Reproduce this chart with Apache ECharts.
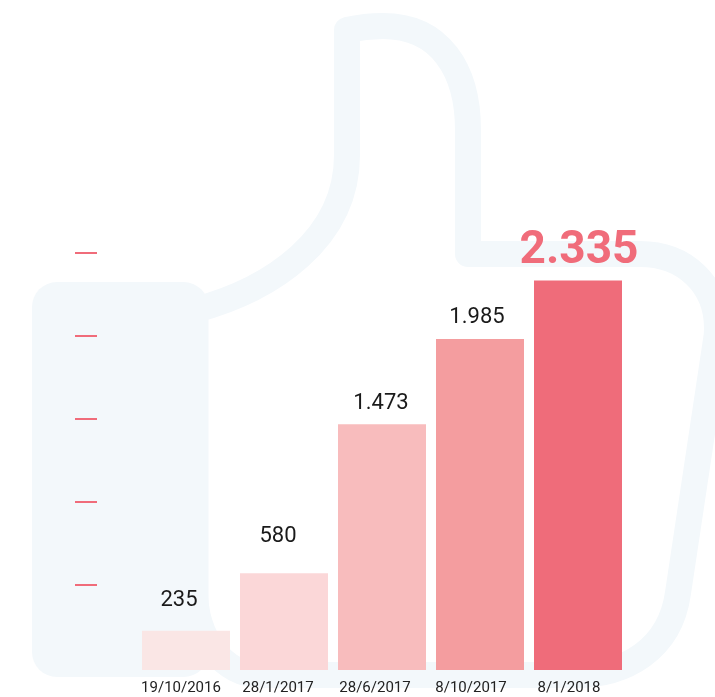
<!DOCTYPE html>
<html>
<head>
<meta charset="utf-8">
<style>html,body{margin:0;padding:0;background:#fff}#c{width:715px;height:697px}</style>
<script src="https://cdn.jsdelivr.net/npm/echarts@6/dist/echarts.min.js"></script>
</head>
<body>
<div id="c"></div>
<script>
const categories = ['19/10/2016', '28/1/2017', '28/6/2017', '8/10/2017', '8/1/2018'];
const values = [235, 580, 1473, 1985, 2335];
const valueLabels = ['235', '580', '1.473', '1.985', '2.335'];
const barColors = ['#fae6e5', '#fbd7d8', '#f8bcbd', '#f49d9f', '#ef6c7a'];
const labelOffsets = [[-7, -8], [-6, -15], [-1, 1], [-3, 1], [1, 5]];
const catShifts = [5, 6, 7, 9, 9];
const BG = '#f3f8fb';
const thumbPath = 'M195 310 C270 290 347 240 347 155 L347 30 Q365 26 383 26 C440 26 468 70 468 130 L468 254 L640 254 C685 254 717 285 717 328 Q717 335 716 340 L678 593 C670 650 625 675 575 675 L260 675 C225 675 195 640 195 590';

const chart = echarts.init(document.getElementById('c'), null, {renderer: 'canvas'});
const rich = {};
catShifts.forEach((s, i) => {
  rich['c' + i] = {fontFamily: 'Roboto', fontSize: 15, color: '#222', padding: [0, s * 2, 0, 0]};
});

chart.setOption({
  animation: false,
  backgroundColor: '#fff',
  grid: [
    {left: 137, width: 490, top: 253, height: 417},
    {left: 97, width: 10, top: 253, height: 332}
  ],
  xAxis: [
    {type: 'category', gridIndex: 0, data: categories,
     axisLine: {show: false}, axisTick: {show: false},
     axisLabel: {show: true, interval: 0, margin: 11,
       formatter: (v) => `{c${categories.indexOf(v)}|${v}}`, rich}},
    {type: 'category', gridIndex: 1, show: false, data: []}
  ],
  yAxis: [
    {type: 'value', gridIndex: 0, min: 0, max: 2500, interval: 500, show: false, splitLine: {show: false}},
    {type: 'value', gridIndex: 1, min: 500, max: 2500, interval: 500,
     axisLine: {show: false}, axisLabel: {show: false}, splitLine: {show: false},
     axisTick: {show: true, length: 22, lineStyle: {color: '#f06c7a', width: 2}}}
  ],
  series: [{
    type: 'custom', coordinateSystem: 'none', silent: true, z: 0, data: [[0]],
    renderItem: () => ({
      type: 'group',
      children: [
        {type: 'path', shape: {pathData: thumbPath},
         style: {fill: 'none', stroke: BG, lineWidth: 26, lineJoin: 'round'}},
        {type: 'rect', shape: {x: 32, y: 282, width: 176.5, height: 395, r: 25},
         style: {fill: BG}}
      ]
    })
  }, {
    type: 'bar', xAxisIndex: 0, yAxisIndex: 0, barWidth: 88, z: 2,
    data: values.map((v, i) => ({
      value: v,
      itemStyle: {color: barColors[i]},
      label: {
        show: true, position: 'top',
        formatter: valueLabels[i], offset: labelOffsets[i],
        fontFamily: 'Roboto',
        fontSize: i === 4 ? 46 : 22,
        fontWeight: i === 4 ? 'bold' : 'normal',
        color: i === 4 ? '#f06c7a' : '#1a1a1a',
        distance: 11
      }
    }))
  }]
});
</script>
</body>
</html>
